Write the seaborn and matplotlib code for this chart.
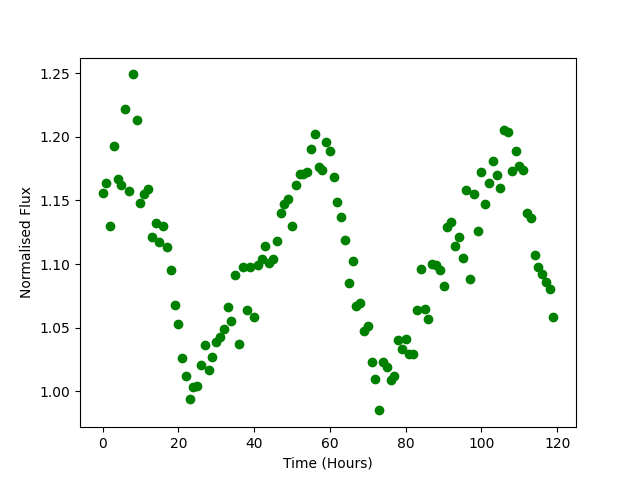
import matplotlib
matplotlib.use("Agg")
import matplotlib.pyplot as plt
import seaborn as sns
import numpy as np

hours = list(range(120))
flux = [
    1.156, 1.164, 1.130, 1.193, 1.167, 1.162, 1.222, 1.157, 1.249, 1.213,
    1.148, 1.155, 1.159, 1.121, 1.132, 1.117, 1.130, 1.113, 1.095, 1.068,
    1.053, 1.026, 1.012, 0.994, 1.003, 1.004, 1.021, 1.036, 1.017, 1.027,
    1.039, 1.043, 1.049, 1.066, 1.055, 1.091, 1.037, 1.098, 1.064, 1.098,
    1.058, 1.099, 1.104, 1.114, 1.101, 1.104, 1.118, 1.140, 1.147, 1.151,
    1.130, 1.162, 1.171, 1.171, 1.172, 1.190, 1.202, 1.176, 1.174, 1.196,
    1.189, 1.168, 1.149, 1.137, 1.119, 1.085, 1.102, 1.067, 1.069, 1.047,
    1.051, 1.023, 1.010, 0.985, 1.023, 1.019, 1.009, 1.012, 1.040, 1.033,
    1.041, 1.029, 1.029, 1.064, 1.096, 1.065, 1.057, 1.100, 1.099, 1.095,
    1.083, 1.129, 1.133, 1.114, 1.121, 1.105, 1.158, 1.088, 1.155, 1.126,
    1.172, 1.147, 1.164, 1.181, 1.170, 1.160, 1.205, 1.204, 1.173, 1.189,
    1.177, 1.174, 1.140, 1.136, 1.107, 1.098, 1.092, 1.086, 1.080, 1.058,
]

fig, ax = plt.subplots(figsize=(6.4, 4.8), dpi=100)
sns.scatterplot(x=hours, y=flux, ax=ax, color="green", edgecolor="green",
                linewidth=1, s=36, legend=False)
ax.set_xlabel("Time (Hours)")
ax.set_ylabel("Normalised Flux")
fig.savefig("out.png", dpi=100)
